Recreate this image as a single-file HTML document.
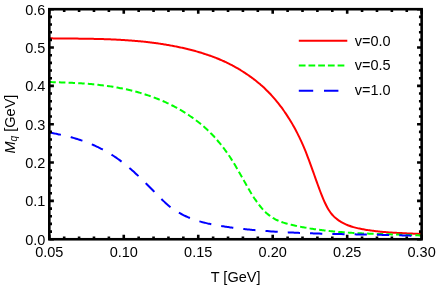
<!DOCTYPE html>
<html><head><meta charset="utf-8"><style>
html,body{margin:0;padding:0;background:#fff;}
svg{display:block;will-change:transform;opacity:0.999}
text{font-family:"Liberation Sans",sans-serif;font-size:14.5px;fill:#000}
</style></head><body>
<svg width="436" height="287" viewBox="0 0 436 287">
<rect width="436" height="287" fill="#fff"/>
<g fill="none" stroke-width="2" stroke-linecap="butt" stroke-linejoin="round">
<path d="M49.30 38.33C49.63 38.33 50.63 38.35 51.30 38.35C51.97 38.36 52.63 38.37 53.30 38.38C53.97 38.39 54.63 38.39 55.30 38.40C55.97 38.41 56.63 38.42 57.30 38.42C57.97 38.43 58.63 38.44 59.30 38.44C59.97 38.45 60.63 38.46 61.30 38.46C61.97 38.47 62.63 38.48 63.30 38.48C63.97 38.49 64.63 38.49 65.30 38.50C65.97 38.51 66.63 38.51 67.30 38.52C67.97 38.52 68.63 38.53 69.30 38.54C69.97 38.54 70.63 38.55 71.30 38.55C71.97 38.56 72.63 38.57 73.30 38.57C73.97 38.58 74.63 38.59 75.30 38.59C75.97 38.60 76.63 38.61 77.30 38.62C77.97 38.62 78.63 38.63 79.30 38.64C79.97 38.65 80.63 38.65 81.30 38.66C81.97 38.67 82.63 38.68 83.30 38.69C83.97 38.70 84.63 38.71 85.30 38.72C85.97 38.73 86.63 38.74 87.30 38.75C87.97 38.76 88.63 38.77 89.30 38.78C89.97 38.79 90.63 38.81 91.30 38.82C91.97 38.83 92.63 38.84 93.30 38.86C93.97 38.87 94.63 38.89 95.30 38.90C95.97 38.92 96.63 38.93 97.30 38.95C97.97 38.96 98.63 38.98 99.30 39.00C99.97 39.02 100.63 39.03 101.30 39.05C101.97 39.07 102.63 39.09 103.30 39.11C103.97 39.13 104.63 39.16 105.30 39.18C105.97 39.20 106.63 39.22 107.30 39.25C107.97 39.27 108.63 39.29 109.30 39.32C109.97 39.35 110.63 39.37 111.30 39.40C111.97 39.43 112.63 39.46 113.30 39.49C113.97 39.52 114.63 39.55 115.30 39.58C115.97 39.61 116.63 39.64 117.30 39.68C117.97 39.71 118.63 39.74 119.30 39.78C119.97 39.82 120.63 39.85 121.30 39.89C121.97 39.93 122.63 39.97 123.30 40.01C123.97 40.05 124.63 40.09 125.30 40.13C125.97 40.18 126.63 40.22 127.30 40.27C127.97 40.31 128.63 40.36 129.30 40.41C129.97 40.46 130.63 40.50 131.30 40.56C131.97 40.61 132.63 40.66 133.30 40.71C133.97 40.77 134.63 40.82 135.30 40.88C135.97 40.93 136.63 40.99 137.30 41.05C137.97 41.11 138.63 41.17 139.30 41.24C139.97 41.30 140.63 41.36 141.30 41.43C141.97 41.49 142.63 41.56 143.30 41.63C143.97 41.70 144.63 41.77 145.30 41.84C145.97 41.91 146.63 41.99 147.30 42.06C147.97 42.14 148.63 42.22 149.30 42.30C149.97 42.38 150.63 42.46 151.30 42.54C151.97 42.62 152.63 42.71 153.30 42.79C153.97 42.88 154.63 42.97 155.30 43.06C155.97 43.15 156.63 43.24 157.30 43.33C157.97 43.43 158.63 43.52 159.30 43.62C159.97 43.72 160.63 43.82 161.30 43.92C161.97 44.02 162.63 44.13 163.30 44.23C163.97 44.34 164.63 44.45 165.30 44.56C165.97 44.67 166.63 44.78 167.30 44.89C167.97 45.01 168.63 45.12 169.30 45.24C169.97 45.36 170.63 45.48 171.30 45.61C171.97 45.73 172.63 45.85 173.30 45.98C173.97 46.11 174.63 46.24 175.30 46.37C175.97 46.50 176.63 46.64 177.30 46.77C177.97 46.91 178.63 47.05 179.30 47.19C179.97 47.33 180.63 47.48 181.30 47.62C181.97 47.77 182.63 47.92 183.30 48.07C183.97 48.22 184.63 48.38 185.30 48.53C185.97 48.69 186.63 48.85 187.30 49.01C187.97 49.17 188.63 49.33 189.30 49.50C189.97 49.67 190.63 49.84 191.30 50.01C191.97 50.18 192.63 50.36 193.30 50.53C193.97 50.71 194.63 50.89 195.30 51.07C195.97 51.26 196.63 51.44 197.30 51.63C197.97 51.82 198.63 52.02 199.30 52.21C199.97 52.41 200.63 52.61 201.30 52.81C201.97 53.02 202.63 53.22 203.30 53.43C203.97 53.64 204.63 53.86 205.30 54.08C205.97 54.29 206.63 54.52 207.30 54.74C207.97 54.97 208.63 55.20 209.30 55.43C209.97 55.67 210.63 55.91 211.30 56.15C211.97 56.39 212.63 56.64 213.30 56.89C213.97 57.14 214.63 57.40 215.30 57.66C215.97 57.92 216.63 58.19 217.30 58.46C217.97 58.73 218.63 59.00 219.30 59.28C219.97 59.57 220.63 59.85 221.30 60.14C221.97 60.43 222.63 60.73 223.30 61.03C223.97 61.33 224.63 61.64 225.30 61.95C225.97 62.26 226.63 62.58 227.30 62.90C227.97 63.23 228.63 63.56 229.30 63.89C229.97 64.23 230.63 64.57 231.30 64.92C231.97 65.26 232.63 65.62 233.30 65.98C233.97 66.34 234.63 66.70 235.30 67.07C235.97 67.45 236.63 67.82 237.30 68.21C237.97 68.59 238.63 68.98 239.30 69.38C239.97 69.78 240.63 70.19 241.30 70.60C241.97 71.01 242.63 71.43 243.30 71.85C243.97 72.28 244.63 72.71 245.30 73.15C245.97 73.59 246.63 74.04 247.30 74.49C247.97 74.95 248.63 75.41 249.30 75.88C249.97 76.35 250.63 76.83 251.30 77.31C251.97 77.80 252.63 78.29 253.30 78.79C253.97 79.30 254.63 79.81 255.30 80.33C255.97 80.85 256.63 81.38 257.30 81.92C257.97 82.46 258.63 83.02 259.30 83.58C259.97 84.14 260.63 84.72 261.30 85.30C261.97 85.89 262.63 86.49 263.30 87.10C263.97 87.71 264.63 88.34 265.30 88.97C265.97 89.61 266.63 90.26 267.30 90.93C267.97 91.59 268.63 92.27 269.30 92.96C269.97 93.66 270.63 94.37 271.30 95.09C271.97 95.81 272.63 96.55 273.30 97.31C273.97 98.07 274.63 98.84 275.30 99.63C275.97 100.42 276.63 101.22 277.30 102.05C277.97 102.87 278.63 103.71 279.30 104.57C279.97 105.43 280.63 106.31 281.30 107.21C281.97 108.11 282.63 109.02 283.30 109.96C283.97 110.90 284.63 111.85 285.30 112.83C285.97 113.81 286.63 114.81 287.30 115.83C287.97 116.85 288.63 117.89 289.30 118.96C289.97 120.03 290.63 121.12 291.30 122.24C291.97 123.36 292.63 124.50 293.30 125.68C293.97 126.86 294.63 128.07 295.30 129.31C295.97 130.55 296.63 131.83 297.30 133.14C297.97 134.45 298.63 135.79 299.30 137.18C299.97 138.56 300.63 139.98 301.30 141.44C301.97 142.91 302.63 144.41 303.30 145.95C303.97 147.50 304.63 149.09 305.30 150.72C305.97 152.36 306.63 154.05 307.30 155.77C307.97 157.49 308.63 159.27 309.30 161.07C309.97 162.87 310.63 164.71 311.30 166.56C311.97 168.41 312.63 170.29 313.30 172.16C313.97 174.03 314.63 175.93 315.30 177.80C315.97 179.67 316.63 181.56 317.30 183.41C317.97 185.25 318.63 187.10 319.30 188.89C319.97 190.68 320.63 192.45 321.30 194.15C321.97 195.85 322.63 197.51 323.30 199.07C323.97 200.64 324.63 202.15 325.30 203.55C325.97 204.95 326.63 206.27 327.30 207.48C327.97 208.69 328.63 209.78 329.30 210.80C329.97 211.81 330.63 212.72 331.30 213.57C331.97 214.42 332.63 215.17 333.30 215.88C333.97 216.59 334.63 217.21 335.30 217.80C335.97 218.39 336.63 218.92 337.30 219.42C337.97 219.92 338.63 220.37 339.30 220.80C339.97 221.24 340.63 221.64 341.30 222.03C341.97 222.42 342.63 222.79 343.30 223.13C343.97 223.48 344.63 223.81 345.30 224.12C345.97 224.43 346.63 224.72 347.30 225.00C347.97 225.27 348.63 225.53 349.30 225.78C349.97 226.02 350.63 226.25 351.30 226.47C351.97 226.69 352.63 226.89 353.30 227.09C353.97 227.28 354.63 227.46 355.30 227.63C355.97 227.81 356.63 227.97 357.30 228.12C357.97 228.28 358.63 228.42 359.30 228.56C359.97 228.70 360.63 228.84 361.30 228.96C361.97 229.09 362.63 229.22 363.30 229.34C363.97 229.46 364.63 229.57 365.30 229.68C365.97 229.80 366.63 229.90 367.30 230.01C367.97 230.11 368.63 230.22 369.30 230.31C369.97 230.41 370.63 230.51 371.30 230.60C371.97 230.69 372.63 230.78 373.30 230.86C373.97 230.95 374.63 231.03 375.30 231.11C375.97 231.19 376.63 231.27 377.30 231.34C377.97 231.42 378.63 231.49 379.30 231.56C379.97 231.62 380.63 231.69 381.30 231.75C381.97 231.82 382.63 231.88 383.30 231.94C383.97 232.00 384.63 232.05 385.30 232.11C385.97 232.16 386.63 232.22 387.30 232.27C387.97 232.32 388.63 232.37 389.30 232.41C389.97 232.46 390.63 232.51 391.30 232.55C391.97 232.60 392.63 232.64 393.30 232.68C393.97 232.72 394.63 232.76 395.30 232.80C395.97 232.84 396.63 232.87 397.30 232.91C397.97 232.95 398.63 232.98 399.30 233.01C399.97 233.05 400.63 233.08 401.30 233.11C401.97 233.15 402.63 233.18 403.30 233.21C403.97 233.24 404.63 233.27 405.30 233.30C405.97 233.33 406.63 233.36 407.30 233.39C407.97 233.42 408.63 233.45 409.30 233.48C409.97 233.51 410.63 233.53 411.30 233.56C411.97 233.59 412.63 233.62 413.30 233.65C413.97 233.68 414.63 233.71 415.30 233.74C415.97 233.77 416.63 233.80 417.30 233.83C417.97 233.86 418.63 233.89 419.30 233.93C419.97 233.96 420.92 234.01 421.30 234.02C421.68 234.04 421.55 234.04 421.60 234.04" stroke="#ff0000"/>
<path d="M49.30 82.04C49.63 82.05 50.63 82.08 51.30 82.10C51.97 82.12 52.63 82.13 53.30 82.15C53.97 82.17 54.63 82.19 55.30 82.21C55.97 82.23 56.63 82.25 57.30 82.27C57.97 82.29 58.63 82.31 59.30 82.33C59.97 82.35 60.63 82.37 61.30 82.40C61.97 82.42 62.63 82.44 63.30 82.47C63.97 82.49 64.63 82.52 65.30 82.54C65.97 82.57 66.63 82.59 67.30 82.62C67.97 82.65 68.63 82.68 69.30 82.71C69.97 82.73 70.63 82.76 71.30 82.80C71.97 82.83 72.63 82.86 73.30 82.89C73.97 82.93 74.63 82.96 75.30 82.99C75.97 83.03 76.63 83.07 77.30 83.11C77.97 83.14 78.63 83.18 79.30 83.22C79.97 83.26 80.63 83.31 81.30 83.35C81.97 83.39 82.63 83.44 83.30 83.48C83.97 83.53 84.63 83.58 85.30 83.63C85.97 83.68 86.63 83.73 87.30 83.78C87.97 83.83 88.63 83.89 89.30 83.94C89.97 84.00 90.63 84.06 91.30 84.12C91.97 84.18 92.63 84.24 93.30 84.30C93.97 84.37 94.63 84.43 95.30 84.50C95.97 84.57 96.63 84.64 97.30 84.71C97.97 84.78 98.63 84.85 99.30 84.93C99.97 85.00 100.63 85.08 101.30 85.16C101.97 85.24 102.63 85.32 103.30 85.41C103.97 85.49 104.63 85.58 105.30 85.67C105.97 85.75 106.63 85.85 107.30 85.94C107.97 86.03 108.63 86.13 109.30 86.23C109.97 86.33 110.63 86.43 111.30 86.53C111.97 86.63 112.63 86.74 113.30 86.85C113.97 86.96 114.63 87.07 115.30 87.19C115.97 87.30 116.63 87.42 117.30 87.54C117.97 87.66 118.63 87.78 119.30 87.91C119.97 88.03 120.63 88.16 121.30 88.29C121.97 88.42 122.63 88.56 123.30 88.69C123.97 88.83 124.63 88.97 125.30 89.12C125.97 89.26 126.63 89.41 127.30 89.56C127.97 89.71 128.63 89.86 129.30 90.02C129.97 90.17 130.63 90.33 131.30 90.50C131.97 90.66 132.63 90.83 133.30 91.00C133.97 91.17 134.63 91.34 135.30 91.52C135.97 91.70 136.63 91.88 137.30 92.06C137.97 92.24 138.63 92.43 139.30 92.62C139.97 92.82 140.63 93.01 141.30 93.21C141.97 93.41 142.63 93.61 143.30 93.82C143.97 94.02 144.63 94.23 145.30 94.45C145.97 94.66 146.63 94.88 147.30 95.10C147.97 95.32 148.63 95.55 149.30 95.78C149.97 96.01 150.63 96.24 151.30 96.48C151.97 96.72 152.63 96.96 153.30 97.21C153.97 97.46 154.63 97.71 155.30 97.96C155.97 98.22 156.63 98.48 157.30 98.74C157.97 99.01 158.63 99.27 159.30 99.55C159.97 99.82 160.63 100.10 161.30 100.38C161.97 100.66 162.63 100.95 163.30 101.24C163.97 101.53 164.63 101.83 165.30 102.13C165.97 102.43 166.63 102.74 167.30 103.05C167.97 103.36 168.63 103.68 169.30 104.00C169.97 104.32 170.63 104.65 171.30 104.98C171.97 105.32 172.63 105.66 173.30 106.00C173.97 106.35 174.63 106.70 175.30 107.06C175.97 107.41 176.63 107.78 177.30 108.14C177.97 108.51 178.63 108.89 179.30 109.27C179.97 109.65 180.63 110.04 181.30 110.43C181.97 110.83 182.63 111.23 183.30 111.64C183.97 112.05 184.63 112.46 185.30 112.88C185.97 113.30 186.63 113.73 187.30 114.17C187.97 114.60 188.63 115.04 189.30 115.49C189.97 115.94 190.63 116.40 191.30 116.86C191.97 117.33 192.63 117.80 193.30 118.28C193.97 118.76 194.63 119.25 195.30 119.75C195.97 120.24 196.63 120.75 197.30 121.27C197.97 121.78 198.63 122.31 199.30 122.84C199.97 123.38 200.63 123.92 201.30 124.48C201.97 125.04 202.63 125.60 203.30 126.18C203.97 126.76 204.63 127.35 205.30 127.96C205.97 128.56 206.63 129.17 207.30 129.80C207.97 130.43 208.63 131.07 209.30 131.72C209.97 132.37 210.63 133.04 211.30 133.72C211.97 134.40 212.63 135.10 213.30 135.81C213.97 136.52 214.63 137.24 215.30 137.98C215.97 138.72 216.63 139.48 217.30 140.25C217.97 141.02 218.63 141.80 219.30 142.61C219.97 143.41 220.63 144.23 221.30 145.07C221.97 145.91 222.63 146.76 223.30 147.64C223.97 148.51 224.63 149.41 225.30 150.32C225.97 151.23 226.63 152.16 227.30 153.12C227.97 154.07 228.63 155.05 229.30 156.04C229.97 157.04 230.63 158.06 231.30 159.10C231.97 160.14 232.63 161.21 233.30 162.29C233.97 163.37 234.63 164.47 235.30 165.59C235.97 166.71 236.63 167.84 237.30 168.99C237.97 170.13 238.63 171.29 239.30 172.46C239.97 173.63 240.63 174.81 241.30 175.99C241.97 177.17 242.63 178.36 243.30 179.55C243.97 180.73 244.63 181.93 245.30 183.10C245.97 184.28 246.63 185.46 247.30 186.62C247.97 187.78 248.63 188.94 249.30 190.07C249.97 191.20 250.63 192.32 251.30 193.41C251.97 194.50 252.63 195.57 253.30 196.61C253.97 197.65 254.63 198.67 255.30 199.66C255.97 200.64 256.63 201.60 257.30 202.53C257.97 203.45 258.63 204.35 259.30 205.20C259.97 206.06 260.63 206.89 261.30 207.67C261.97 208.46 262.63 209.21 263.30 209.92C263.97 210.63 264.63 211.31 265.30 211.95C265.97 212.59 266.63 213.19 267.30 213.77C267.97 214.34 268.63 214.88 269.30 215.39C269.97 215.90 270.63 216.38 271.30 216.84C271.97 217.30 272.63 217.72 273.30 218.12C273.97 218.53 274.63 218.90 275.30 219.26C275.97 219.62 276.63 219.95 277.30 220.26C277.97 220.57 278.63 220.87 279.30 221.14C279.97 221.42 280.63 221.68 281.30 221.92C281.97 222.16 282.63 222.39 283.30 222.61C283.97 222.83 284.63 223.03 285.30 223.22C285.97 223.42 286.63 223.60 287.30 223.77C287.97 223.95 288.63 224.12 289.30 224.28C289.97 224.45 290.63 224.60 291.30 224.76C291.97 224.92 292.63 225.07 293.30 225.22C293.97 225.37 294.63 225.52 295.30 225.66C295.97 225.80 296.63 225.95 297.30 226.09C297.97 226.23 298.63 226.36 299.30 226.50C299.97 226.63 300.63 226.76 301.30 226.89C301.97 227.02 302.63 227.15 303.30 227.27C303.97 227.40 304.63 227.52 305.30 227.64C305.97 227.76 306.63 227.88 307.30 227.99C307.97 228.11 308.63 228.22 309.30 228.33C309.97 228.44 310.63 228.55 311.30 228.65C311.97 228.76 312.63 228.86 313.30 228.96C313.97 229.07 314.63 229.17 315.30 229.26C315.97 229.36 316.63 229.46 317.30 229.55C317.97 229.64 318.63 229.73 319.30 229.82C319.97 229.91 320.63 230.00 321.30 230.08C321.97 230.17 322.63 230.25 323.30 230.33C323.97 230.42 324.63 230.50 325.30 230.57C325.97 230.65 326.63 230.73 327.30 230.80C327.97 230.88 328.63 230.95 329.30 231.02C329.97 231.09 330.63 231.16 331.30 231.23C331.97 231.29 332.63 231.36 333.30 231.42C333.97 231.49 334.63 231.55 335.30 231.61C335.97 231.67 336.63 231.73 337.30 231.79C337.97 231.85 338.63 231.91 339.30 231.96C339.97 232.02 340.63 232.07 341.30 232.12C341.97 232.18 342.63 232.23 343.30 232.28C343.97 232.33 344.63 232.37 345.30 232.42C345.97 232.47 346.63 232.52 347.30 232.56C347.97 232.60 348.63 232.65 349.30 232.69C349.97 232.73 350.63 232.77 351.30 232.82C351.97 232.86 352.63 232.89 353.30 232.93C353.97 232.97 354.63 233.01 355.30 233.04C355.97 233.08 356.63 233.12 357.30 233.15C357.97 233.18 358.63 233.22 359.30 233.25C359.97 233.28 360.63 233.31 361.30 233.35C361.97 233.38 362.63 233.41 363.30 233.44C363.97 233.47 364.63 233.49 365.30 233.52C365.97 233.55 366.63 233.58 367.30 233.60C367.97 233.63 368.63 233.66 369.30 233.68C369.97 233.71 370.63 233.73 371.30 233.76C371.97 233.78 372.63 233.80 373.30 233.83C373.97 233.85 374.63 233.87 375.30 233.90C375.97 233.92 376.63 233.94 377.30 233.96C377.97 233.98 378.63 234.01 379.30 234.03C379.97 234.05 380.63 234.07 381.30 234.09C381.97 234.11 382.63 234.13 383.30 234.15C383.97 234.17 384.63 234.19 385.30 234.21C385.97 234.23 386.63 234.25 387.30 234.27C387.97 234.29 388.63 234.31 389.30 234.33C389.97 234.35 390.63 234.37 391.30 234.39C391.97 234.41 392.63 234.43 393.30 234.45C393.97 234.47 394.63 234.49 395.30 234.51C395.97 234.53 396.63 234.55 397.30 234.57C397.97 234.59 398.63 234.61 399.30 234.63C399.97 234.65 400.63 234.67 401.30 234.69C401.97 234.71 402.63 234.73 403.30 234.76C403.97 234.78 404.63 234.80 405.30 234.82C405.97 234.85 406.63 234.87 407.30 234.89C407.97 234.92 408.63 234.94 409.30 234.97C409.97 234.99 410.63 235.02 411.30 235.04C411.97 235.07 412.63 235.10 413.30 235.12C413.97 235.15 414.63 235.18 415.30 235.21C415.97 235.23 416.63 235.26 417.30 235.29C417.97 235.32 418.63 235.36 419.30 235.39C419.97 235.42 420.92 235.47 421.30 235.48C421.68 235.50 421.55 235.50 421.60 235.50" stroke="#00ff00" stroke-dasharray="6.48 3.16"/>
<path d="M49.30 132.49C49.63 132.55 50.63 132.73 51.30 132.85C51.97 132.98 52.63 133.10 53.30 133.23C53.97 133.36 54.63 133.49 55.30 133.62C55.97 133.75 56.63 133.88 57.30 134.02C57.97 134.16 58.63 134.29 59.30 134.44C59.97 134.58 60.63 134.72 61.30 134.87C61.97 135.02 62.63 135.17 63.30 135.32C63.97 135.47 64.63 135.63 65.30 135.79C65.97 135.95 66.63 136.11 67.30 136.28C67.97 136.44 68.63 136.61 69.30 136.79C69.97 136.96 70.63 137.14 71.30 137.32C71.97 137.50 72.63 137.68 73.30 137.87C73.97 138.06 74.63 138.26 75.30 138.45C75.97 138.65 76.63 138.85 77.30 139.06C77.97 139.27 78.63 139.48 79.30 139.69C79.97 139.91 80.63 140.13 81.30 140.35C81.97 140.58 82.63 140.81 83.30 141.05C83.97 141.28 84.63 141.52 85.30 141.77C85.97 142.01 86.63 142.26 87.30 142.52C87.97 142.78 88.63 143.04 89.30 143.31C89.97 143.58 90.63 143.85 91.30 144.13C91.97 144.41 92.63 144.69 93.30 144.99C93.97 145.28 94.63 145.58 95.30 145.88C95.97 146.18 96.63 146.49 97.30 146.81C97.97 147.13 98.63 147.45 99.30 147.78C99.97 148.11 100.63 148.45 101.30 148.79C101.97 149.14 102.63 149.49 103.30 149.85C103.97 150.21 104.63 150.57 105.30 150.94C105.97 151.32 106.63 151.70 107.30 152.08C107.97 152.47 108.63 152.87 109.30 153.27C109.97 153.67 110.63 154.08 111.30 154.50C111.97 154.92 112.63 155.35 113.30 155.78C113.97 156.22 114.63 156.66 115.30 157.11C115.97 157.56 116.63 158.02 117.30 158.49C117.97 158.96 118.63 159.43 119.30 159.92C119.97 160.40 120.63 160.90 121.30 161.40C121.97 161.90 122.63 162.42 123.30 162.94C123.97 163.46 124.63 163.99 125.30 164.52C125.97 165.06 126.63 165.61 127.30 166.16C127.97 166.72 128.63 167.28 129.30 167.85C129.97 168.42 130.63 168.99 131.30 169.57C131.97 170.16 132.63 170.75 133.30 171.35C133.97 171.94 134.63 172.54 135.30 173.15C135.97 173.76 136.63 174.38 137.30 175.00C137.97 175.62 138.63 176.25 139.30 176.88C139.97 177.51 140.63 178.15 141.30 178.79C141.97 179.43 142.63 180.08 143.30 180.73C143.97 181.38 144.63 182.03 145.30 182.69C145.97 183.35 146.63 184.02 147.30 184.68C147.97 185.35 148.63 186.02 149.30 186.69C149.97 187.37 150.63 188.04 151.30 188.72C151.97 189.40 152.63 190.08 153.30 190.76C153.97 191.45 154.63 192.14 155.30 192.82C155.97 193.51 156.63 194.20 157.30 194.88C157.97 195.56 158.63 196.24 159.30 196.92C159.97 197.59 160.63 198.26 161.30 198.92C161.97 199.58 162.63 200.24 163.30 200.87C163.97 201.51 164.63 202.14 165.30 202.75C165.97 203.37 166.63 203.97 167.30 204.55C167.97 205.13 168.63 205.69 169.30 206.23C169.97 206.77 170.63 207.29 171.30 207.79C171.97 208.29 172.63 208.77 173.30 209.23C173.97 209.69 174.63 210.12 175.30 210.55C175.97 210.97 176.63 211.38 177.30 211.77C177.97 212.17 178.63 212.55 179.30 212.92C179.97 213.29 180.63 213.65 181.30 214.00C181.97 214.35 182.63 214.69 183.30 215.03C183.97 215.36 184.63 215.68 185.30 215.99C185.97 216.30 186.63 216.60 187.30 216.89C187.97 217.19 188.63 217.47 189.30 217.74C189.97 218.02 190.63 218.28 191.30 218.54C191.97 218.80 192.63 219.05 193.30 219.29C193.97 219.54 194.63 219.77 195.30 220.00C195.97 220.22 196.63 220.44 197.30 220.66C197.97 220.87 198.63 221.08 199.30 221.27C199.97 221.47 200.63 221.67 201.30 221.85C201.97 222.04 202.63 222.22 203.30 222.40C203.97 222.57 204.63 222.74 205.30 222.90C205.97 223.07 206.63 223.23 207.30 223.38C207.97 223.54 208.63 223.68 209.30 223.83C209.97 223.97 210.63 224.11 211.30 224.25C211.97 224.39 212.63 224.52 213.30 224.65C213.97 224.78 214.63 224.90 215.30 225.02C215.97 225.15 216.63 225.26 217.30 225.38C217.97 225.50 218.63 225.61 219.30 225.72C219.97 225.83 220.63 225.94 221.30 226.05C221.97 226.15 222.63 226.26 223.30 226.36C223.97 226.47 224.63 226.57 225.30 226.67C225.97 226.77 226.63 226.86 227.30 226.96C227.97 227.06 228.63 227.15 229.30 227.25C229.97 227.34 230.63 227.43 231.30 227.52C231.97 227.61 232.63 227.70 233.30 227.78C233.97 227.87 234.63 227.96 235.30 228.04C235.97 228.12 236.63 228.21 237.30 228.29C237.97 228.37 238.63 228.45 239.30 228.52C239.97 228.60 240.63 228.68 241.30 228.75C241.97 228.83 242.63 228.90 243.30 228.98C243.97 229.05 244.63 229.12 245.30 229.19C245.97 229.26 246.63 229.33 247.30 229.40C247.97 229.46 248.63 229.53 249.30 229.60C249.97 229.66 250.63 229.72 251.30 229.79C251.97 229.85 252.63 229.91 253.30 229.97C253.97 230.03 254.63 230.09 255.30 230.15C255.97 230.21 256.63 230.27 257.30 230.32C257.97 230.38 258.63 230.44 259.30 230.49C259.97 230.55 260.63 230.60 261.30 230.65C261.97 230.71 262.63 230.76 263.30 230.81C263.97 230.86 264.63 230.91 265.30 230.96C265.97 231.01 266.63 231.06 267.30 231.11C267.97 231.15 268.63 231.20 269.30 231.25C269.97 231.29 270.63 231.34 271.30 231.39C271.97 231.43 272.63 231.47 273.30 231.52C273.97 231.56 274.63 231.60 275.30 231.65C275.97 231.69 276.63 231.73 277.30 231.77C277.97 231.81 278.63 231.85 279.30 231.89C279.97 231.93 280.63 231.97 281.30 232.01C281.97 232.04 282.63 232.08 283.30 232.12C283.97 232.16 284.63 232.19 285.30 232.23C285.97 232.26 286.63 232.30 287.30 232.33C287.97 232.37 288.63 232.40 289.30 232.43C289.97 232.47 290.63 232.50 291.30 232.53C291.97 232.56 292.63 232.59 293.30 232.62C293.97 232.65 294.63 232.68 295.30 232.71C295.97 232.74 296.63 232.77 297.30 232.80C297.97 232.83 298.63 232.86 299.30 232.89C299.97 232.91 300.63 232.94 301.30 232.97C301.97 232.99 302.63 233.02 303.30 233.04C303.97 233.07 304.63 233.10 305.30 233.12C305.97 233.14 306.63 233.17 307.30 233.19C307.97 233.22 308.63 233.24 309.30 233.26C309.97 233.29 310.63 233.31 311.30 233.33C311.97 233.35 312.63 233.37 313.30 233.39C313.97 233.42 314.63 233.44 315.30 233.46C315.97 233.48 316.63 233.50 317.30 233.52C317.97 233.54 318.63 233.56 319.30 233.58C319.97 233.59 320.63 233.61 321.30 233.63C321.97 233.65 322.63 233.67 323.30 233.69C323.97 233.70 324.63 233.72 325.30 233.74C325.97 233.76 326.63 233.77 327.30 233.79C327.97 233.81 328.63 233.82 329.30 233.84C329.97 233.85 330.63 233.87 331.30 233.89C331.97 233.90 332.63 233.92 333.30 233.93C333.97 233.95 334.63 233.96 335.30 233.98C335.97 233.99 336.63 234.01 337.30 234.02C337.97 234.03 338.63 234.05 339.30 234.06C339.97 234.08 340.63 234.09 341.30 234.10C341.97 234.12 342.63 234.13 343.30 234.14C343.97 234.16 344.63 234.17 345.30 234.18C345.97 234.20 346.63 234.21 347.30 234.22C347.97 234.23 348.63 234.25 349.30 234.26C349.97 234.27 350.63 234.28 351.30 234.30C351.97 234.31 352.63 234.32 353.30 234.33C353.97 234.35 354.63 234.36 355.30 234.37C355.97 234.38 356.63 234.40 357.30 234.41C357.97 234.42 358.63 234.43 359.30 234.44C359.97 234.46 360.63 234.47 361.30 234.48C361.97 234.49 362.63 234.50 363.30 234.52C363.97 234.53 364.63 234.54 365.30 234.55C365.97 234.57 366.63 234.58 367.30 234.59C367.97 234.60 368.63 234.61 369.30 234.63C369.97 234.64 370.63 234.65 371.30 234.66C371.97 234.68 372.63 234.69 373.30 234.70C373.97 234.72 374.63 234.73 375.30 234.74C375.97 234.75 376.63 234.77 377.30 234.78C377.97 234.79 378.63 234.81 379.30 234.82C379.97 234.84 380.63 234.85 381.30 234.86C381.97 234.88 382.63 234.89 383.30 234.91C383.97 234.92 384.63 234.93 385.30 234.95C385.97 234.96 386.63 234.98 387.30 234.99C387.97 235.01 388.63 235.03 389.30 235.04C389.97 235.06 390.63 235.07 391.30 235.09C391.97 235.10 392.63 235.12 393.30 235.14C393.97 235.15 394.63 235.17 395.30 235.19C395.97 235.21 396.63 235.22 397.30 235.24C397.97 235.26 398.63 235.28 399.30 235.30C399.97 235.31 400.63 235.33 401.30 235.35C401.97 235.37 402.63 235.39 403.30 235.41C403.97 235.43 404.63 235.45 405.30 235.47C405.97 235.49 406.63 235.51 407.30 235.54C407.97 235.56 408.63 235.58 409.30 235.60C409.97 235.62 410.63 235.65 411.30 235.67C411.97 235.69 412.63 235.71 413.30 235.74C413.97 235.76 414.63 235.79 415.30 235.81C415.97 235.84 416.63 235.86 417.30 235.89C417.97 235.91 418.63 235.94 419.30 235.97C419.97 235.99 420.92 236.03 421.30 236.05C421.68 236.06 421.55 236.06 421.60 236.06" stroke="#0000ff" stroke-dasharray="12.25 10.05" stroke-dashoffset="0.4"/>
</g>
<path d="M49.30 239.25v-4.6M49.30 9.2v4.6M64.19 239.25v-2.7M64.19 9.2v2.7M79.09 239.25v-2.7M79.09 9.2v2.7M93.98 239.25v-2.7M93.98 9.2v2.7M108.88 239.25v-2.7M108.88 9.2v2.7M123.77 239.25v-4.6M123.77 9.2v4.6M138.66 239.25v-2.7M138.66 9.2v2.7M153.56 239.25v-2.7M153.56 9.2v2.7M168.45 239.25v-2.7M168.45 9.2v2.7M183.35 239.25v-2.7M183.35 9.2v2.7M198.24 239.25v-4.6M198.24 9.2v4.6M213.13 239.25v-2.7M213.13 9.2v2.7M228.03 239.25v-2.7M228.03 9.2v2.7M242.92 239.25v-2.7M242.92 9.2v2.7M257.82 239.25v-2.7M257.82 9.2v2.7M272.71 239.25v-4.6M272.71 9.2v4.6M287.60 239.25v-2.7M287.60 9.2v2.7M302.50 239.25v-2.7M302.50 9.2v2.7M317.39 239.25v-2.7M317.39 9.2v2.7M332.29 239.25v-2.7M332.29 9.2v2.7M347.18 239.25v-4.6M347.18 9.2v4.6M362.07 239.25v-2.7M362.07 9.2v2.7M376.97 239.25v-2.7M376.97 9.2v2.7M391.86 239.25v-2.7M391.86 9.2v2.7M406.76 239.25v-2.7M406.76 9.2v2.7M421.65 239.25v-4.6M421.65 9.2v4.6M49.3 239.25h4.6M421.65 239.25h-4.6M49.3 231.58h2.7M421.65 231.58h-2.7M49.3 223.91h2.7M421.65 223.91h-2.7M49.3 216.25h2.7M421.65 216.25h-2.7M49.3 208.58h2.7M421.65 208.58h-2.7M49.3 200.91h4.6M421.65 200.91h-4.6M49.3 193.24h2.7M421.65 193.24h-2.7M49.3 185.57h2.7M421.65 185.57h-2.7M49.3 177.90h2.7M421.65 177.90h-2.7M49.3 170.23h2.7M421.65 170.23h-2.7M49.3 162.57h4.6M421.65 162.57h-4.6M49.3 154.90h2.7M421.65 154.90h-2.7M49.3 147.23h2.7M421.65 147.23h-2.7M49.3 139.56h2.7M421.65 139.56h-2.7M49.3 131.89h2.7M421.65 131.89h-2.7M49.3 124.22h4.6M421.65 124.22h-4.6M49.3 116.56h2.7M421.65 116.56h-2.7M49.3 108.89h2.7M421.65 108.89h-2.7M49.3 101.22h2.7M421.65 101.22h-2.7M49.3 93.55h2.7M421.65 93.55h-2.7M49.3 85.88h4.6M421.65 85.88h-4.6M49.3 78.22h2.7M421.65 78.22h-2.7M49.3 70.55h2.7M421.65 70.55h-2.7M49.3 62.88h2.7M421.65 62.88h-2.7M49.3 55.21h2.7M421.65 55.21h-2.7M49.3 47.54h4.6M421.65 47.54h-4.6M49.3 39.87h2.7M421.65 39.87h-2.7M49.3 32.20h2.7M421.65 32.20h-2.7M49.3 24.54h2.7M421.65 24.54h-2.7M49.3 16.87h2.7M421.65 16.87h-2.7M49.3 9.20h4.6M421.65 9.20h-4.6" stroke="#000" stroke-width="2.6" fill="none"/>
<rect x="49.3" y="9.2" width="372.34999999999997" height="230.05" fill="none" stroke="#000" stroke-width="2.6"/>
<text x="49.30" y="257.2" text-anchor="middle">0.05</text><text x="123.77" y="257.2" text-anchor="middle">0.10</text><text x="198.24" y="257.2" text-anchor="middle">0.15</text><text x="272.71" y="257.2" text-anchor="middle">0.20</text><text x="347.18" y="257.2" text-anchor="middle">0.25</text><text x="421.65" y="257.2" text-anchor="middle">0.30</text>
<text x="45.4" y="244.55" text-anchor="end">0.0</text><text x="45.4" y="206.21" text-anchor="end">0.1</text><text x="45.4" y="167.87" text-anchor="end">0.2</text><text x="45.4" y="129.52" text-anchor="end">0.3</text><text x="45.4" y="91.18" text-anchor="end">0.4</text><text x="45.4" y="52.84" text-anchor="end">0.5</text><text x="45.4" y="14.50" text-anchor="end">0.6</text>
<text x="235.6" y="282.4" text-anchor="middle">T [GeV]</text>
<text transform="translate(14.6 153.6) rotate(-90)"><tspan font-style="italic">M</tspan><tspan font-style="italic" font-size="10.4px" dy="2.7">q</tspan><tspan dy="-2.7"> [GeV]</tspan></text>
<g fill="none" stroke-width="2">
<path d="M298.8 40.75H347.3" stroke="#ff0000"/>
<path d="M298.8 65.55H347.3" stroke="#00ff00" stroke-dasharray="6.75 2.95"/>
<path d="M298.8 90.75H347.3" stroke="#0000ff" stroke-dasharray="14.4 10.8"/>
</g>
<text x="354.8" y="45.6">v=0.0</text>
<text x="354.8" y="70.4">v=0.5</text>
<text x="354.8" y="95.4">v=1.0</text>
</svg>
</body></html>
